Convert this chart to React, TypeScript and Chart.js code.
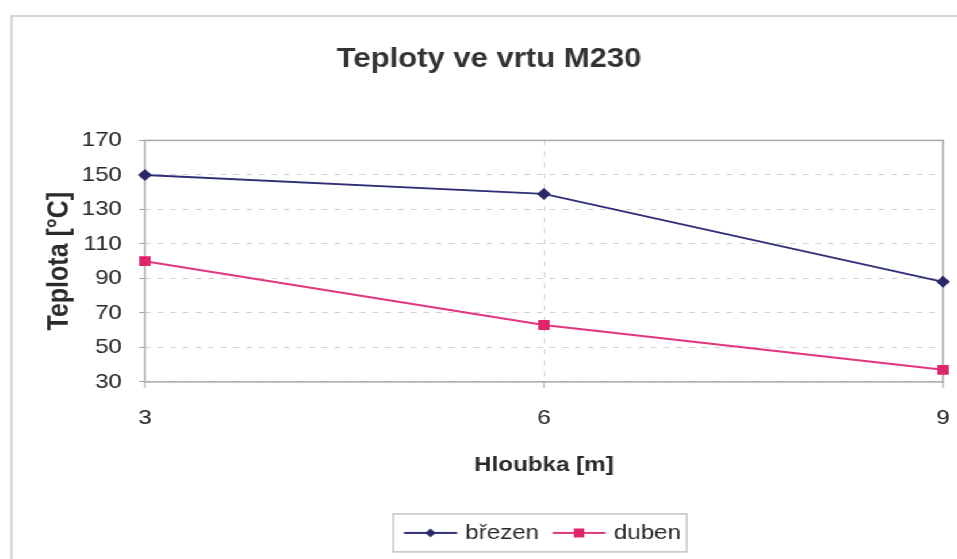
import React, { useEffect, useRef } from 'react';
import { Chart, registerables } from 'chart.js';

Chart.register(...registerables);

// ---- data ----
const categories = ['3', '6', '9'];
const brezenValues = [150, 139, 88];
const dubenValues = [100, 63, 37];
const seriesNames = ['březen', 'duben'];
const yMin = 30;
const yMax = 170;
const yStep = 20;
const chartTitle = 'Teploty ve vrtu M230';
const xTitle = 'Hloubka [m]';
const yTitle = 'Teplota [°C]';

// ---- styling ----
const SX = 1.15; // horizontal stretch of the scanned picture
const W = Math.round(957 / SX);
const H = 559;
const FONT = "'Liberation Sans', Arial, sans-serif";
const NAVY = '#2f2e78';
const NAVY_M = '#2a2968';
const PINK = '#e2367e';
const PINK_M = '#e0246c';
const TEXT = '#2a2a2a';
const LEGEND_CENTER = 540 / SX;
const TITLE_CENTER = 489 / SX;
const SYM_BOX = 42.5;
const SYM_LINE = 46;

function makeSymbol(line: string, marker: string, shape: 'diamond' | 'square') {
  // canvas is centred in a SYM_BOX wide legend box; the visible line starts at the box's left
  const cw = 2 * (SYM_LINE - SYM_BOX / 2);
  const off = cw / 2 - SYM_BOX / 2;
  const c = document.createElement('canvas');
  c.width = Math.ceil(cw);
  c.height = 14;
  const g = c.getContext('2d')!;
  g.strokeStyle = line;
  g.lineWidth = 2;
  g.beginPath();
  g.moveTo(off, 7);
  g.lineTo(off + SYM_LINE, 7);
  g.stroke();
  const mx = off + SYM_LINE / 2;
  g.fillStyle = marker;
  g.beginPath();
  if (shape === 'diamond') {
    g.moveTo(mx - 4.5, 7);
    g.lineTo(mx, 2.5);
    g.lineTo(mx + 4.5, 7);
    g.lineTo(mx, 11.5);
    g.closePath();
  } else {
    g.rect(mx - 4.5, 2.5, 9, 9);
  }
  g.fill();
  return c;
}

function legendExtent(lg: any) {
  let l = Infinity, r = -Infinity, t = Infinity, b = -Infinity;
  lg.legendHitBoxes.forEach((h: any) => {
    l = Math.min(l, h.left);
    r = Math.max(r, h.left + h.width);
    t = Math.min(t, h.top);
    b = Math.max(b, h.top + h.height);
  });
  return { l: l - 9.6, r: r + 5, t: t - 8.5, b: b + 8.5 };
}

const decor = {
  id: 'decor',
  beforeDraw(chart: any) {
    const { ctx } = chart;
    const lg = chart.legend;
    if (lg && lg.legendHitBoxes && lg.legendHitBoxes.length) {
      const e = legendExtent(lg);
      const dx = LEGEND_CENTER - (e.l + e.r) / 2;
      lg.left += dx;
      lg.right += dx;
      lg.legendHitBoxes.forEach((h: any) => { h.left += dx; });
    }
    const tb = chart.titleBlock;
    if (tb) {
      const dx = TITLE_CENTER - (tb.left + tb.right) / 2;
      tb.left += dx;
      tb.right += dx;
    }
    ctx.save();
    ctx.fillStyle = '#ffffff';
    ctx.fillRect(0, 0, chart.width, chart.height);
    ctx.strokeStyle = '#d6d6d6';
    ctx.lineWidth = 2;
    ctx.strokeRect(10, 16, chart.width + 20, chart.height + 20);
    ctx.restore();
  },
  beforeDatasetsDraw(chart: any) {
    const { ctx, chartArea: a } = chart;
    const xs = chart.scales.x;
    ctx.save();
    ctx.strokeStyle = '#a0a0a0';
    ctx.lineWidth = 1;
    xs.ticks.forEach((_t: any, i: number) => {
      const px = xs.getPixelForTick(i);
      ctx.beginPath();
      ctx.moveTo(px, a.bottom);
      ctx.lineTo(px, a.bottom + 6);
      ctx.stroke();
    });
    ctx.strokeStyle = '#a9a9a9';
    ctx.lineWidth = 1.5;
    ctx.strokeRect(a.left, a.top, a.right - a.left, a.bottom - a.top);
    ctx.restore();
  },
  afterDraw(chart: any) {
    const lg = chart.legend;
    if (!lg || !lg.legendHitBoxes || !lg.legendHitBoxes.length) return;
    const e = legendExtent(lg);
    const { ctx } = chart;
    ctx.save();
    ctx.strokeStyle = '#c4c4c4';
    ctx.lineWidth = 1.5;
    ctx.strokeRect(e.l, e.t, e.r - e.l, e.b - e.t);
    ctx.restore();
  },
};

export default function App() {
  const ref = useRef<HTMLCanvasElement>(null);

  useEffect(() => {
    if (!ref.current) return;
    const symbols = [
      makeSymbol(NAVY, NAVY_M, 'diamond'),
      makeSymbol(PINK, PINK_M, 'square'),
    ];
    const chart = new Chart(ref.current, {
      type: 'line',
      data: {
        labels: categories,
        datasets: [
          {
            label: seriesNames[0],
            data: brezenValues,
            borderColor: NAVY,
            backgroundColor: NAVY_M,
            borderWidth: 2,
            pointStyle: 'rectRot',
            pointRadius: 6,
            pointBorderWidth: 0,
            pointBackgroundColor: NAVY_M,
            tension: 0,
          },
          {
            label: seriesNames[1],
            data: dubenValues,
            borderColor: PINK,
            backgroundColor: PINK_M,
            borderWidth: 2,
            pointStyle: 'rect',
            pointRadius: 7,
            pointBorderWidth: 0.01,
            pointBorderColor: PINK_M,
            pointBackgroundColor: PINK_M,
            tension: 0,
          },
        ],
      },
      options: {
        responsive: false,
        animation: false,
        devicePixelRatio: 1,
        layout: { autoPadding: false, padding: { left: 10, right: 12, top: 16, bottom: 5.6 } },
        plugins: {
          title: {
            display: true,
            text: chartTitle,
            color: '#333333',
            font: { family: FONT, size: 27, weight: 'bold' },
            padding: { top: 27, bottom: 65 },
          },
          legend: {
            display: true,
            position: 'bottom',
            labels: {
              color: TEXT,
              font: { family: FONT, size: 21 },
              usePointStyle: true,
              pointStyleWidth: SYM_BOX,
              padding: 12,
              generateLabels: (c: any) => {
                const items = Chart.defaults.plugins.legend.labels.generateLabels(c);
                return items.map((it: any, i: number) => ({ ...it, pointStyle: symbols[i] }));
              },
            },
          },
          tooltip: { enabled: false },
        },
        scales: {
          x: {
            type: 'category',
            offset: false,
            afterFit: (s: any) => { s.height = 128.5; },
            grid: {
              color: (ctx: any) => (ctx.index === 1 ? '#cfcfcf' : 'rgba(0,0,0,0)'),
              tickColor: 'rgba(0,0,0,0)',
              tickLength: 24,
              lineWidth: 1,
            },
            border: { display: false, dash: [5, 6] },
            ticks: {
              color: TEXT,
              font: { family: FONT, size: 21 },
              padding: 0,
              maxRotation: 0,
            },
            title: {
              display: true,
              text: xTitle,
              color: TEXT,
              font: { family: FONT, size: 21, weight: 'bold' },
              padding: { top: 0, bottom: 33 },
            },
          },
          y: {
            min: yMin,
            max: yMax,
            afterFit: (s: any) => { s.width = 116; },
            grid: {
              color: '#d2d2d2',
              tickColor: '#a0a0a0',
              tickLength: 5,
              lineWidth: 1,
            },
            border: { display: false, dash: [5, 6] },
            ticks: {
              stepSize: yStep,
              color: TEXT,
              font: { family: FONT, size: 21 },
              padding: 15,
            },
            title: {
              display: true,
              text: yTitle,
              color: TEXT,
              font: { family: FONT, size: 25, weight: 'bold' },
              padding: { top: 27, bottom: 0 },
            },
          },
        },
      },
      plugins: [decor],
    });
    return () => chart.destroy();
  }, []);

  return (
    <div
      style={{
        position: 'absolute',
        left: 0,
        top: 0,
        width: W,
        height: H,
        transform: `scaleX(${SX})`,
        transformOrigin: '0 0',
        background: '#fff',
      }}
    >
      <canvas ref={ref} width={W} height={H} style={{ display: 'block' }} />
    </div>
  );
}
